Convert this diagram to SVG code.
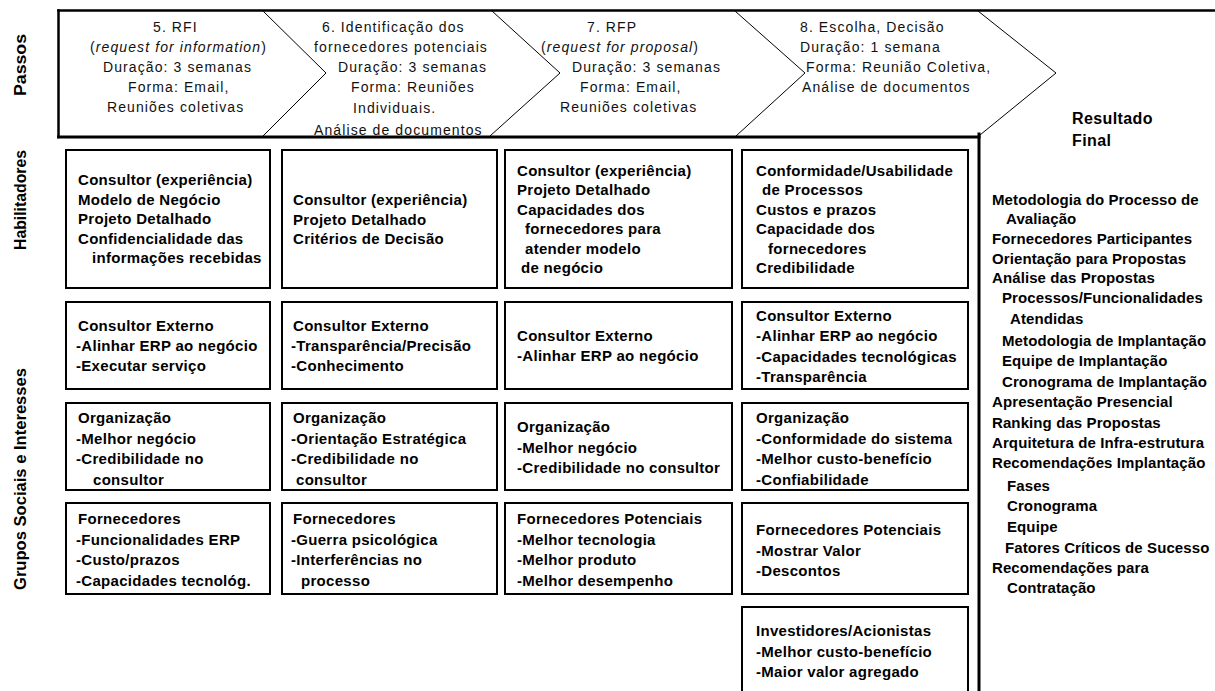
<svg xmlns="http://www.w3.org/2000/svg" width="1215" height="691" viewBox="0 0 1215 691">
  <style>
    .lbl { font-family: "Liberation Sans", Arial, sans-serif; font-weight: bold; font-size: 16px; fill: #000; }
    .step { font-family: "Liberation Sans", Arial, sans-serif; font-size: 14px; letter-spacing: 1.1px; fill: #111; }
    .bt { font-family: "Liberation Sans", Arial, sans-serif; font-weight: bold; font-size: 15px; letter-spacing: 0.3px; fill: #000; }
    .rt { font-family: "Liberation Sans", Arial, sans-serif; font-weight: bold; font-size: 15px; letter-spacing: 0.1px; fill: #000; }
    .head { font-family: "Liberation Sans", Arial, sans-serif; font-weight: bold; font-size: 16px; letter-spacing: 0.4px; fill: #000; }
    .box { fill: #fff; stroke: #000; stroke-width: 2; }
    .frame { fill: none; stroke: #000; stroke-linecap: square; }
    .chev { fill: none; stroke: #000; stroke-width: 1; }
    .it { font-style: italic; }
  </style>

  <rect width="1215" height="691" fill="#fff"/>

  <!-- row labels, rotated -->
  <g id="row-labels">
    <text class="lbl" transform="translate(26,65) rotate(-90)" text-anchor="middle" textLength="62" lengthAdjust="spacingAndGlyphs">Passos</text>
    <text class="lbl" transform="translate(26,200) rotate(-90)" text-anchor="middle" textLength="100" lengthAdjust="spacingAndGlyphs">Habilitadores</text>
    <text class="lbl" transform="translate(26,479) rotate(-90)" text-anchor="middle" textLength="222" lengthAdjust="spacingAndGlyphs">Grupos Sociais e Interesses</text>
  </g>

  <!-- outer frame of the step band and result column -->
  <g id="connectors">
    <line class="frame" x1="58.5" y1="10.5" x2="1215" y2="10.5" stroke-width="2.5"/>
    <line class="frame" x1="58.5" y1="10.5" x2="58.5" y2="137" stroke-width="2.5"/>
    <line class="frame" x1="58.5" y1="137" x2="979" y2="137" stroke-width="3"/>
    <line class="frame" x1="979" y1="134" x2="979" y2="700" stroke-width="3"/>
    <!-- chevron separators -->
    <polyline class="chev" points="263,11 326,73 263,136"/>
    <polyline class="chev" points="492,11 560,73 490,136"/>
    <polyline class="chev" points="735,11 805,73 736,136"/>
    <polyline class="chev" points="978,11 1056,73 980,135"/>
  </g>

  <!-- steps -->
  <g id="step-5">
    <text class="step" x="153" y="32">5. RFI</text>
    <text class="step" x="90" y="52">(<tspan class="it">request for information</tspan>)</text>
    <text class="step" x="103" y="72">Duração: 3 semanas</text>
    <text class="step" x="128" y="92">Forma: Email,</text>
    <text class="step" x="107" y="112">Reuniões coletivas</text>
  </g>
  <g id="step-6">
    <text class="step" x="322" y="32">6. Identificação dos</text>
    <text class="step" x="314" y="52">fornecedores potenciais</text>
    <text class="step" x="338" y="72">Duração: 3 semanas</text>
    <text class="step" x="351" y="92">Forma: Reuniões</text>
    <text class="step" x="353" y="113">Individuais.</text>
    <text class="step" x="314" y="135">Análise de documentos</text>
  </g>
  <g id="step-7">
    <text class="step" x="587" y="32">7. RFP</text>
    <text class="step" x="541" y="52">(<tspan class="it">request for proposal</tspan>)</text>
    <text class="step" x="572" y="72">Duração: 3 semanas</text>
    <text class="step" x="580" y="92">Forma: Email,</text>
    <text class="step" x="560" y="112">Reuniões coletivas</text>
  </g>
  <g id="step-8">
    <text class="step" x="800" y="32">8. Escolha, Decisão</text>
    <text class="step" x="800" y="52">Duração: 1 semana</text>
    <text class="step" x="806" y="72">Forma: Reunião Coletiva,</text>
    <text class="step" x="802" y="92">Análise de documentos</text>
  </g>

  <!-- enablers row -->
  <g id="hab-5">
    <rect class="box" x="66" y="150" width="204" height="138"/>
    <text class="bt" x="78" y="185">Consultor (experiência)</text>
    <text class="bt" x="78" y="204.5">Modelo de Negócio</text>
    <text class="bt" x="78" y="224">Projeto Detalhado</text>
    <text class="bt" x="78" y="243.5">Confidencialidade das</text>
    <text class="bt" x="92" y="263">informações recebidas</text>
  </g>
  <g id="hab-6">
    <rect class="box" x="282" y="150" width="215" height="138"/>
    <text class="bt" x="293" y="205">Consultor (experiência)</text>
    <text class="bt" x="293" y="224.5">Projeto Detalhado</text>
    <text class="bt" x="293" y="244">Critérios de Decisão</text>
  </g>
  <g id="hab-7">
    <rect class="box" x="505" y="150" width="227" height="138"/>
    <text class="bt" x="517" y="175.5">Consultor (experiência)</text>
    <text class="bt" x="517" y="195">Projeto Detalhado</text>
    <text class="bt" x="517" y="214.5">Capacidades dos</text>
    <text class="bt" x="525" y="234">fornecedores para</text>
    <text class="bt" x="525" y="253.5">atender modelo</text>
    <text class="bt" x="521" y="273">de negócio</text>
  </g>
  <g id="hab-8">
    <rect class="box" x="742" y="150" width="226" height="138"/>
    <text class="bt" x="756" y="175.5">Conformidade/Usabilidade</text>
    <text class="bt" x="762" y="195">de Processos</text>
    <text class="bt" x="756" y="214.5">Custos e prazos</text>
    <text class="bt" x="756" y="234">Capacidade dos</text>
    <text class="bt" x="768" y="253.5">fornecedores</text>
    <text class="bt" x="756" y="273">Credibilidade</text>
  </g>

  <!-- external consultant row -->
  <g id="consultor-5">
    <rect class="box" x="66" y="302" width="204" height="87"/>
    <text class="bt" x="78" y="331">Consultor Externo</text>
    <text class="bt" x="76" y="351">-Alinhar ERP ao negócio</text>
    <text class="bt" x="76" y="371">-Executar serviço</text>
  </g>
  <g id="consultor-6">
    <rect class="box" x="282" y="302" width="215" height="87"/>
    <text class="bt" x="293" y="331">Consultor Externo</text>
    <text class="bt" x="291" y="351">-Transparência/Precisão</text>
    <text class="bt" x="291" y="371">-Conhecimento</text>
  </g>
  <g id="consultor-7">
    <rect class="box" x="505" y="302" width="227" height="87"/>
    <text class="bt" x="517" y="341">Consultor Externo</text>
    <text class="bt" x="517" y="361">-Alinhar ERP ao negócio</text>
  </g>
  <g id="consultor-8">
    <rect class="box" x="742" y="302" width="226" height="87"/>
    <text class="bt" x="756" y="320.5">Consultor Externo</text>
    <text class="bt" x="756" y="341">-Alinhar ERP ao negócio</text>
    <text class="bt" x="756" y="361.5">-Capacidades tecnológicas</text>
    <text class="bt" x="756" y="382">-Transparência</text>
  </g>

  <!-- organisation row -->
  <g id="org-5">
    <rect class="box" x="66" y="403" width="204" height="87"/>
    <text class="bt" x="78" y="423">Organização</text>
    <text class="bt" x="76" y="443.5">-Melhor negócio</text>
    <text class="bt" x="76" y="464">-Credibilidade no</text>
    <text class="bt" x="93" y="484.5">consultor</text>
  </g>
  <g id="org-6">
    <rect class="box" x="282" y="403" width="215" height="87"/>
    <text class="bt" x="293" y="423">Organização</text>
    <text class="bt" x="291" y="443.5">-Orientação Estratégica</text>
    <text class="bt" x="291" y="464">-Credibilidade no</text>
    <text class="bt" x="296" y="484.5">consultor</text>
  </g>
  <g id="org-7">
    <rect class="box" x="505" y="403" width="227" height="87"/>
    <text class="bt" x="517" y="432">Organização</text>
    <text class="bt" x="517" y="452.5">-Melhor negócio</text>
    <text class="bt" x="517" y="473">-Credibilidade no consultor</text>
  </g>
  <g id="org-8">
    <rect class="box" x="742" y="403" width="226" height="87"/>
    <text class="bt" x="756" y="423">Organização</text>
    <text class="bt" x="756" y="443.5">-Conformidade do sistema</text>
    <text class="bt" x="756" y="464">-Melhor custo-benefício</text>
    <text class="bt" x="756" y="484.5">-Confiabilidade</text>
  </g>

  <!-- suppliers row -->
  <g id="forn-5">
    <rect class="box" x="66" y="503" width="204" height="91"/>
    <text class="bt" x="78" y="524">Fornecedores</text>
    <text class="bt" x="76" y="544.5">-Funcionalidades ERP</text>
    <text class="bt" x="76" y="565">-Custo/prazos</text>
    <text class="bt" x="76" y="585.5">-Capacidades tecnológ.</text>
  </g>
  <g id="forn-6">
    <rect class="box" x="282" y="503" width="215" height="91"/>
    <text class="bt" x="293" y="524">Fornecedores</text>
    <text class="bt" x="291" y="544.5">-Guerra psicológica</text>
    <text class="bt" x="291" y="565">-Interferências no</text>
    <text class="bt" x="301" y="585.5">processo</text>
  </g>
  <g id="forn-7">
    <rect class="box" x="505" y="503" width="227" height="91"/>
    <text class="bt" x="517" y="524">Fornecedores Potenciais</text>
    <text class="bt" x="517" y="544.5">-Melhor tecnologia</text>
    <text class="bt" x="517" y="565">-Melhor produto</text>
    <text class="bt" x="517" y="585.5">-Melhor desempenho</text>
  </g>
  <g id="forn-8">
    <rect class="box" x="742" y="503" width="226" height="91"/>
    <text class="bt" x="756" y="535">Fornecedores Potenciais</text>
    <text class="bt" x="756" y="555.5">-Mostrar Valor</text>
    <text class="bt" x="756" y="576">-Descontos</text>
  </g>

  <!-- investors -->
  <g id="investidores-8">
    <rect class="box" x="742" y="607" width="226" height="100"/>
    <text class="bt" x="756" y="636">Investidores/Acionistas</text>
    <text class="bt" x="756" y="656.5">-Melhor custo-benefício</text>
    <text class="bt" x="756" y="677">-Maior valor agregado</text>
  </g>

  <!-- final result column -->
  <g id="resultado-final">
    <text class="head" x="1072" y="124">Resultado</text>
    <text class="head" x="1072" y="146">Final</text>
    <text class="rt" x="992" y="205">Metodologia do Processo de</text>
    <text class="rt" x="1006" y="224">Avaliação</text>
    <text class="rt" x="992" y="244">Fornecedores Participantes</text>
    <text class="rt" x="992" y="264">Orientação para Propostas</text>
    <text class="rt" x="992" y="283">Análise das Propostas</text>
    <text class="rt" x="1002" y="303">Processos/Funcionalidades</text>
    <text class="rt" x="1010" y="324">Atendidas</text>
    <text class="rt" x="1002" y="346">Metodologia de Implantação</text>
    <text class="rt" x="1002" y="366">Equipe de Implantação</text>
    <text class="rt" x="1002" y="387">Cronograma de Implantação</text>
    <text class="rt" x="992" y="407">Apresentação Presencial</text>
    <text class="rt" x="992" y="428">Ranking das Propostas</text>
    <text class="rt" x="992" y="448">Arquitetura de Infra-estrutura</text>
    <text class="rt" x="992" y="468">Recomendações Implantação</text>
    <text class="rt" x="1007" y="491">Fases</text>
    <text class="rt" x="1007" y="511">Cronograma</text>
    <text class="rt" x="1007" y="532">Equipe</text>
    <text class="rt" x="1005" y="553">Fatores Críticos de Sucesso</text>
    <text class="rt" x="992" y="573">Recomendações para</text>
    <text class="rt" x="1007" y="593">Contratação</text>
  </g>
</svg>
